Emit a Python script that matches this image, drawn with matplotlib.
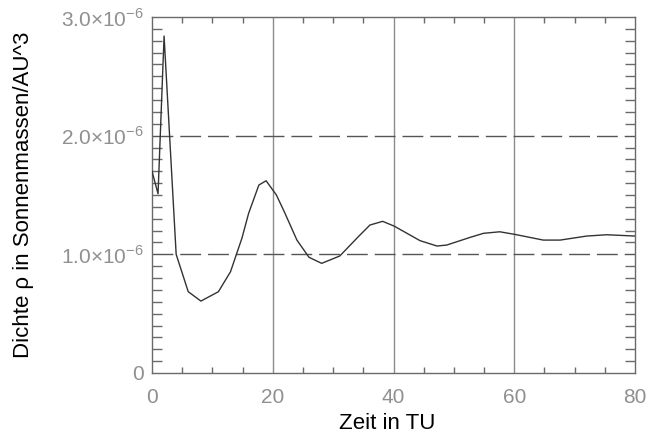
import numpy as np
import matplotlib
matplotlib.use("Agg")
import matplotlib.pyplot as plt
from matplotlib.ticker import MultipleLocator, FixedLocator

# values (time in TU, density in 1e-6 solar masses / AU^3)
zeit = [0.0, 1.0, 2.0, 4.0, 6.0, 8.1, 11.0, 13.0, 14.9, 16.0, 17.7, 18.9,
        20.6, 21.9, 24.0, 26.0, 28.1, 31.1, 34.2, 36.1, 38.2, 40.1, 44.4,
        47.2, 48.8, 52.7, 54.9, 57.6, 60.1, 64.8, 67.6, 72.0, 75.3, 80.0]
dichte = [1.70, 1.51, 2.84, 1.00, 0.685, 0.606, 0.685, 0.853, 1.137, 1.345,
          1.584, 1.62, 1.50, 1.36, 1.12, 0.975, 0.924, 0.986, 1.15, 1.247,
          1.278, 1.238, 1.115, 1.07, 1.078, 1.143, 1.177, 1.19, 1.168, 1.12,
          1.12, 1.154, 1.165, 1.154]

x_ticks = [0, 20, 40, 60, 80]
x_labels = ["0", "20", "40", "60", "80"]
y_ticks = [0.0, 1e-6, 2e-6, 3e-6]
y_labels = ["0", r"1.0$\times$10$^{-6}$", r"2.0$\times$10$^{-6}$", r"3.0$\times$10$^{-6}$"]

plt.rcParams["font.family"] = ["Liberation Sans", "DejaVu Sans"]
plt.rcParams["mathtext.fontset"] = "custom"
plt.rcParams["mathtext.rm"] = "Liberation Sans"

fig = plt.figure(figsize=(6.46, 4.34), dpi=100)
ax = fig.add_axes([0.2353, 0.1406, 0.983 - 0.2353, 0.9608 - 0.1406])

axis_col = "#6a6a6a"
label_col = "#909090"

# grid: solid verticals, long-dashed horizontals
for xv in x_ticks[1:-1]:
    ax.axvline(xv, color="#8c8c8c", lw=1.0, zorder=1)
for yv in y_ticks[1:-1]:
    ax.axhline(yv, color="#555555", lw=1.0, dashes=(15, 5), zorder=1)

ax.plot(zeit, np.array(dichte) * 1e-6, color="#333333", lw=1.0, zorder=3)

ax.set_xlim(0, 80)
ax.set_ylim(0, 3e-6)

ax.xaxis.set_major_locator(FixedLocator(x_ticks))
ax.set_xticklabels(x_labels)
ax.yaxis.set_major_locator(FixedLocator(y_ticks))
ax.set_yticklabels(y_labels)
ax.xaxis.set_minor_locator(MultipleLocator(5))
ax.yaxis.set_minor_locator(MultipleLocator(1e-7))

ax.tick_params(axis="both", which="major", length=0, labelsize=15,
               labelcolor=label_col)
ax.tick_params(axis="x", which="major", pad=11)
ax.tick_params(axis="y", which="major", pad=6)
ax.tick_params(axis="x", which="minor", direction="in", length=4,
               top=True, bottom=True, color=axis_col, width=1)
ax.tick_params(axis="y", which="minor", direction="in", length=7,
               left=True, right=True, color=axis_col, width=1)

for s in ax.spines.values():
    s.set_color(axis_col)
    s.set_linewidth(1.0)

fig.text(0.6, 0.0115, "Zeit in TU", fontsize=16, ha="center", va="baseline")
fig.text(0.037, 0.5507, "Dichte \u03c1 in Sonnenmassen/AU^3", fontsize=16,
         rotation=90, ha="center", va="center")

fig.savefig("out.png", dpi=100)
